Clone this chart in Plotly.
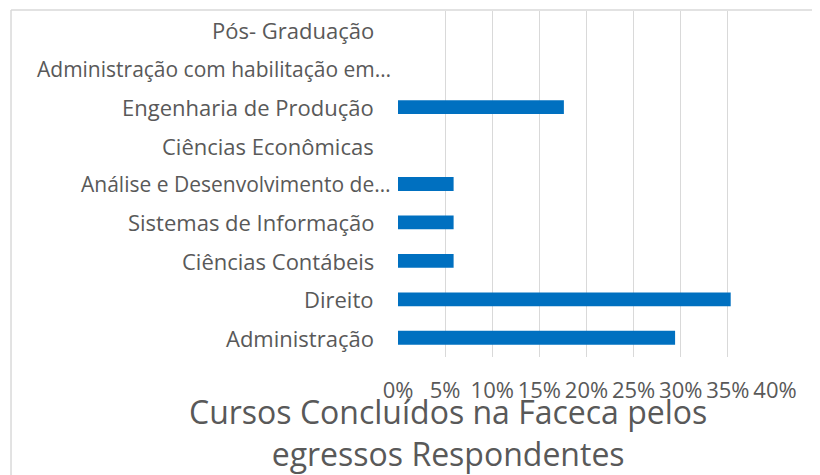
import plotly.graph_objects as go

categories = [
    "Administração",
    "Direito",
    "Ciências Contábeis",
    "Sistemas de Informação",
    "Análise e Desenvolvimento de…",
    "Ciências Econômicas",
    "Engenharia de Produção",
    "Administração com habilitação em…",
    "Pós- Graduação",
]
values = [0.294, 0.353, 0.059, 0.059, 0.059, 0.0, 0.176, 0.0, 0.0]
tick_vals = [0, 0.05, 0.10, 0.15, 0.20, 0.25, 0.30, 0.35, 0.40]

title_text = "Cursos Concluídos na Faceca pelos<br>egressos Respondentes"

# page offset from the default body margin of the browser
OFF = 8
PAGE_W, PAGE_H = 820, 475
W, H = PAGE_W - OFF, PAGE_H - OFF

# plot area in page pixels
PL, PR, PT, PB = 397.5, 775, 11, 357
L = PL - OFF
R = W - (PR - OFF)
T = PT - OFF
B = H - (PB - OFF)
pw, ph = PR - PL, PB - PT


def px_x(p):
    return (p - PL) / pw


def px_y(p):
    return (PB - p) / ph


FONT = "Open Sans"
GREY = "#595959"

fig = go.Figure(
    go.Bar(
        x=values,
        y=categories,
        orientation="h",
        marker=dict(color="#0070C0", line=dict(width=0)),
        hoverinfo="x+y",
    )
)

# category labels: truncated ones (ending with an ellipsis) overhang to the right
label_annotations = []
for i, name in enumerate(categories):
    truncated = name.endswith("…")
    label_annotations.append(
        dict(
            text=name,
            xref="paper",
            yref="y",
            x=0,
            y=i,
            xanchor="right",
            yanchor="middle",
            xshift=-5 if truncated else -22,
            showarrow=False,
            font=dict(family=FONT, size=21 if truncated else 22, color=GREY),
        )
    )

fig.update_layout(
    width=W,
    height=H,
    margin=dict(l=L, r=R, t=T, b=B, pad=0),
    paper_bgcolor="white",
    plot_bgcolor="white",
    bargap=0.64,
    showlegend=False,
    font=dict(family=FONT, color=GREY, size=22),
    xaxis=dict(
        range=[0, 0.4],
        tickvals=tick_vals,
        tickformat=".0%",
        showgrid=True,
        gridcolor="#d9d9d9",
        gridwidth=1,
        zeroline=False,
        showline=False,
        ticks="",
        automargin=False,
        ticklabelstandoff=18,
        tickfont=dict(family=FONT, size=22, color=GREY),
        fixedrange=True,
    ),
    yaxis=dict(
        type="category",
        categoryorder="array",
        categoryarray=categories,
        range=[-0.5, len(categories) - 0.5],
        showgrid=False,
        zeroline=False,
        showline=False,
        ticks="",
        showticklabels=False,
        automargin=False,
        fixedrange=True,
    ),
    annotations=label_annotations + [
        dict(
            text=title_text,
            xref="paper",
            yref="paper",
            x=px_x(447.5),
            y=px_y(432),
            xanchor="center",
            yanchor="middle",
            showarrow=False,
            font=dict(family=FONT, size=32, color=GREY),
        )
    ],
    shapes=[
        dict(type="line", xref="paper", yref="paper",
             x0=px_x(10), x1=px_x(PAGE_W + 5), y0=px_y(10), y1=px_y(10),
             line=dict(color="#d9d9d9", width=1.5)),
        dict(type="line", xref="paper", yref="paper",
             x0=px_x(10), x1=px_x(10), y0=px_y(10), y1=px_y(PAGE_H + 5),
             line=dict(color="#d9d9d9", width=1.5)),
    ],
)

fig.write_html("out.html", config={"displayModeBar": False})
